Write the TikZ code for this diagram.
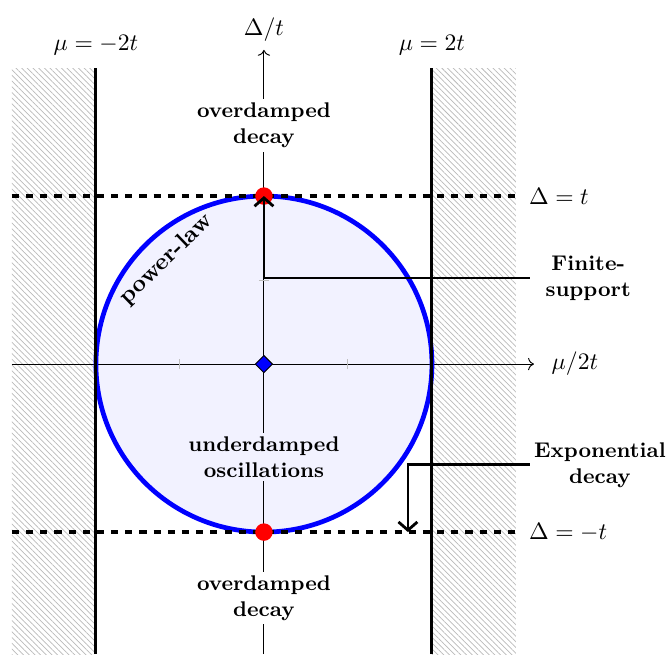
\documentclass[tikz,border=0pt]{standalone}
\usepackage{xcolor}
\usepackage{tikz}
\usetikzlibrary{positioning, shapes.geometric, patterns.meta, arrows.meta}

\tikzset{
	hatch/.style={pattern={Lines[angle=-45,distance=1.7pt,line width=0.3pt]}, pattern color=gray!55},
	regime/.style={font=\small\bfseries, align=center, fill=white, inner sep=1.5pt},
	callout/.style={font=\small\bfseries, align=center},
	wall/.style={line width=1.3pt},
	gapline/.style={ultra thick, dashed},
	pointer/.style={line width=1.2pt, -{Straight Barb[length=3.5pt,width=8pt]}},
	dot/.style={circle, fill=red, inner sep=0pt, minimum size=0.26cm},
	tickmark/.style={gray!50, thin}
}

\begin{document}
\begin{tikzpicture}[x=2.5cm, y=2.5cm]
		\useasboundingbox (-1.571,-1.726) rectangle (2.405,2.167);

		\fill[hatch] (-1.5,-1.726) rectangle (-1,1.76);
		\fill[hatch] (1,-1.726) rectangle (1.5,1.76);
		\fill[blue!5] (0,0) circle (1);

		\coordinate (xl) at (-1.5,0);
		\coordinate (xr) at (1.607,0);
		\coordinate (yb) at (0,-1.726);
		\coordinate (yt) at (0,1.87);
		\draw[->] (xl) -- (xr);
		\draw[->] (yb) -- (yt);
		\node (xlab) [right=4pt of xr] {$\mu/2t$};
		\node (ylab) [above=0pt of yt] {$\Delta/t$};

		\foreach \t in {-0.5,0.5} {
			\draw[tickmark] (\t,-0.03) -- (\t,0.03);
			\draw[tickmark] (-0.03,\t) -- (0.03,\t);
		}

		\node[regime] (over) at (0,1.42) {overdamped\\decay};
		\node[regime] (overb) at (0,-1.393) {overdamped\\decay};
		\node[regime, fill=blue!5] (under) at (0,-0.554) {underdamped\\oscillations};
		\node[font=\bfseries, rotate=44] (pow) at (133:0.85) {power-law};

		\draw[blue, line width=2pt] (0,0) circle (1);

		\coordinate (gtl) at (-1.5,1);
		\coordinate (gtr) at (1.5,1);
		\coordinate (gbl) at (-1.5,-1);
		\coordinate (gbr) at (1.5,-1);
		\draw[gapline] (gtl) -- (gtr);
		\draw[gapline] (gbl) -- (gbr);
		\node (dt) [right=2pt of gtr] {$\Delta=t$};
		\node (dmt) [right=2pt of gbr] {$\Delta=-t$};

		\coordinate (wlb) at (-1,-1.726);
		\coordinate (wlt) at (-1,1.76);
		\coordinate (wrb) at (1,-1.726);
		\coordinate (wrt) at (1,1.76);
		\draw[wall] (wlb) -- (wlt);
		\draw[wall] (wrb) -- (wrt);
		\node (ml) [above=2pt of wlt] {$\mu=-2t$};
		\node (mr) [above=2pt of wrt] {$\mu=2t$};

		\node[dot] (top) at (0,1) {};
		\node[dot] (bot) at (0,-1) {};
		\node[diamond, draw, fill=blue, inner sep=0pt, minimum size=0.26cm] (origin) at (0,0) {};

		\coordinate (fs) at (1.583,0.512);
		\node[callout] (fin) at (1.93,0.512) {Finite-\\support};
		\draw[pointer] (fs) -| (top.center);

		\coordinate (ed) at (1.583,-0.6);
		\coordinate (edtip) at (0.857,-1);
		\node[callout] (expo) at (2.0,-0.6) {Exponential\\decay};
		\draw[pointer] (ed) -| (edtip);

    \end{tikzpicture}
\end{document}
